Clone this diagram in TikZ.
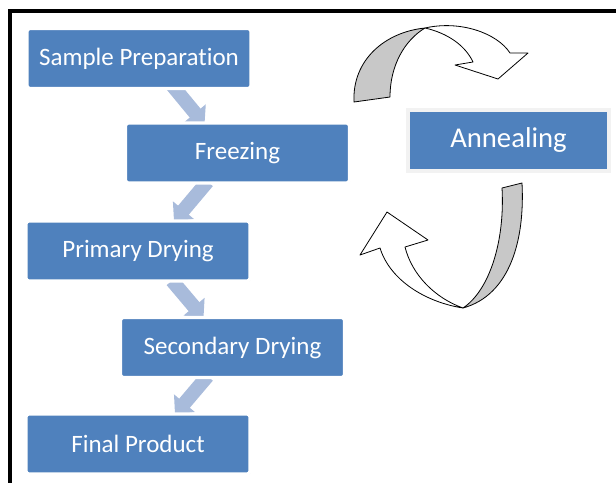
\documentclass[tikz,border=0pt]{standalone}
\usepackage{fontspec}
\setmainfont{Carlito}[Ligatures=NoCommon]
\usetikzlibrary{calc,shadows,backgrounds,arrows.meta}

\definecolor{boxblue}{HTML}{4F81BD}
\definecolor{stepblue}{HTML}{A8BBDB}
\definecolor{bandgray}{HTML}{C8C8C8}

\begin{document}
\begin{tikzpicture}[x=0.75pt,y=-0.75pt]

  \useasboundingbox (0,0) rectangle (616,483);

  % node styles
  \tikzstyle{Box}=[
  shape=rectangle,rounded corners=2.25pt,
  fill=boxblue,draw=white,line width=2.4pt,
  minimum width=168pt,minimum height=45pt,
  text=white,font=\fontsize{18.75}{20}\selectfont,
  drop shadow={shadow xshift=0.6pt,shadow yshift=-0.6pt,opacity=0.3}]

  \tikzstyle{Side}=[
  shape=rectangle,
  fill=boxblue,draw=gray!10,line width=3pt,
  minimum width=150.75pt,minimum height=45.75pt,
  text=white,font=\fontsize{21.5}{23}\selectfont,
  drop shadow={shadow xshift=1.5pt,shadow yshift=-1.5pt,opacity=0.35}]

  \tikzstyle{Step}=[stepblue,line width=10.5pt,
  -{Triangle[width=20pt,length=11pt]}]

  \tikzstyle{Band}=[draw=black,line width=0.6pt,line join=round]

  % frame
  \draw[line width=3pt] (616,11.3) -| (9.5,483);

  % process steps
  \node[Box] (SP) at (139,58.5)   {Sample Preparation};
  \node[Box] (FR) at (237.5,153)  {Freezing};
  \node[Box] (PD) at (138,251)    {Primary Drying};
  \node[Box] (SD) at (232.5,347.5) {Secondary Drying};
  \node[Box] (FP) at (138,444)    {Final Product};

  \node[Side] (AN) at (508.5,140.5) {Annealing};

  % step arrows behind the boxes
  \begin{pgfonlayer}{background}
    \draw[Step] ($(SP.south)+(33,-5)$)  -- ($(FR.north)+(-33,3)$);
    \draw[Step] ($(FR.south)+(-30,-3)$) -- ($(PD.north)+(36,2)$);
    \draw[Step] ($(PD.south)+(34,-2)$)  -- ($(SD.north)+(-29,2)$);
    \draw[Step] ($(SD.south)+(-25,-3)$) -- ($(FP.north)+(37,2)$);
  \end{pgfonlayer}

  % upper loop arrow
  \draw[Band,fill=bandgray] (354,102) .. controls (352,60) and (385,32) .. (425,28)
    .. controls (405,40) and (390,65) .. (390,97) -- cycle;
  \draw[Band,fill=white] (425,28) .. controls (460,20) and (497,33) .. (510,53)
    -- (528,53) -- (498,79) -- (455,65) -- (473,62)
    .. controls (465,45) and (447,33) .. (425,28) -- cycle;

  % lower loop arrow
  \draw[Band,fill=bandgray] (522,183) .. controls (525,240) and (510,295) .. (463,308)
    .. controls (490,290) and (505,240) .. (502,188) -- cycle;
  \draw[Band,fill=white] (463,308) .. controls (425,302) and (390,280) .. (380,248)
    -- (360,255) -- (387,212) -- (428,240) -- (405,247)
    .. controls (412,275) and (435,298) .. (463,308) -- cycle;

\end{tikzpicture}
\end{document}
